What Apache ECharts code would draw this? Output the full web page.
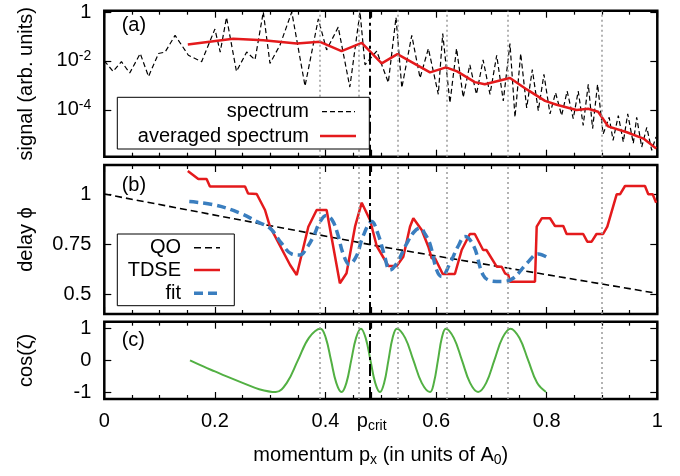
<!DOCTYPE html>
<html>
<head>
<meta charset="utf-8">
<title>spectrum, delay and cos(zeta)</title>
<script src="https://cdn.jsdelivr.net/npm/echarts@6/dist/echarts.min.js"></script>
<style>
  html, body { margin: 0; padding: 0; background: #fff; }
  #chart { width: 680px; height: 476px; }
</style>
</head>
<body>
<div id="chart"></div>
<script>
// ---- values ----
const pCrit = 0.4835
const markerX = [0.391, 0.464, 0.529, 0.6175, 0.7345, 0.895]
const xTickValues = [0, 0.2, 0.4, pCrit, 0.6, 0.8, 1]
const signalTicks = [1e-4, 1e-2, 1]
const delayTicks = [0.5, 0.75, 1]
const cosTicks = [-1, 0, 1]

// (a) spectrum
const spectrumX = [0.000, 0.016, 0.031, 0.046, 0.065, 0.080, 0.098, 0.110, 0.128, 0.152, 0.176, 0.200, 0.2096, 0.221,
  0.239, 0.2575, 0.2725, 0.2875, 0.2996, 0.3177, 0.339, 0.363, 0.387, 0.402, 0.423, 0.444, 0.4624, 0.4714, 0.4926,
  0.5136, 0.5275, 0.538, 0.556, 0.571, 0.586, 0.604, 0.612, 0.625, 0.637, 0.649, 0.661, 0.673, 0.685, 0.6975, 0.7096,
  0.7215, 0.7336, 0.7427, 0.753, 0.7638, 0.774, 0.7848, 0.795, 0.806, 0.816, 0.827, 0.837, 0.848, 0.857, 0.866,
  0.8752, 0.883, 0.892, 0.902, 0.913, 0.920, 0.9295, 0.9385, 0.9465, 0.9566, 0.9627, 0.9718, 0.981, 0.9899, 0.9977]
const spectrumY = [1.0e-2, 3.7e-3, 9.3e-3, 3.2e-3, 2.0e-2, 2.3e-3, 2.0e-2, 2.3e-2, 0.11, 1.7e-2, 9.3e-3, 0.20, 2.3e-2, 0.6,
  3.7e-3, 2.3e-2, 1.1e-2, 1.0, 7.9e-3, 4.4e-2, 1.0, 9.3e-4, 0.52, 2.8e-2, 0.24, 8.5e-4, 1.0, 6.9e-3, 2.5e-2,
  1.3e-3, 0.6, 7.9e-4, 0.11, 2.0e-3, 3.2e-2, 4.3e-4, 0.13, 1.9e-4, 3.2e-2, 3.2e-4, 6.9e-3, 4.3e-4, 1.1e-2, 4.3e-4, 1.7e-2,
  2.3e-4, 5.1e-2, 4.9e-5, 2.0e-2, 1.2e-4, 4.4e-3, 9.1e-5, 2.8e-3, 6.8e-5, 5.0e-4, 5.8e-5, 5.8e-4, 4.3e-5, 5.8e-4, 2.3e-5,
  1.1e-3, 1.7e-5, 1.1e-3, 1.0e-5, 4.9e-5, 5.6e-6, 5.8e-5, 4.8e-6, 6.8e-5, 4.2e-6, 4.9e-5, 3.0e-6, 1.9e-5, 2.2e-6, 7.8e-6]

// (a) averaged spectrum
const averagedX = [0.151, 0.233, 0.2876, 0.348, 0.39, 0.429, 0.4655, 0.5016, 0.530, 0.589, 0.618, 0.638, 0.670, 0.688,
  0.7336, 0.764, 0.797, 0.818, 0.854, 0.875, 0.893, 0.911, 0.945, 0.975, 0.998]
const averagedY = [4.7e-2, 8.1e-2, 7.0e-2, 5.1e-2, 6.0e-2, 2.5e-2, 5.5e-2, 7.9e-3, 1.9e-2, 3.4e-3, 5.4e-3, 3.7e-3, 1.35e-3, 1.1e-3,
  2.0e-3, 6.8e-4, 2.3e-4, 1.6e-4, 9.8e-5, 1.1e-4, 8.3e-5, 2.1e-5, 1.2e-5, 6.6e-6, 2.6e-6]

// (b) QO, TDSE and fit
const qoX = [0, 0.25, 0.5, 0.75, 1]
const qoY = [1.0, 0.868, 0.737, 0.62, 0.503]

const tdseX = [0.151, 0.170, 0.185, 0.191, 0.2545, 0.260, 0.2756, 0.2906, 0.2996, 0.336, 0.348, 0.369, 0.384, 0.402,
  0.426, 0.438, 0.4534, 0.4655, 0.4805, 0.4926, 0.5136, 0.5287, 0.5407, 0.5528, 0.5588, 0.574, 0.586, 0.592, 0.598,
  0.612, 0.634, 0.6463, 0.661, 0.670, 0.685, 0.691, 0.7096, 0.7186, 0.7246, 0.7306, 0.7336, 0.7788, 0.7819, 0.791,
  0.806, 0.815, 0.830, 0.836, 0.866, 0.8734, 0.8813, 0.890, 0.902, 0.9096, 0.9265, 0.9325, 0.9416, 0.9777, 0.9837,
  0.9916, 0.998]
const tdseY = [1.115, 1.075, 1.075, 1.037, 1.037, 1.003, 1.0, 0.92, 0.8365, 0.645, 0.595, 0.8365, 0.92, 0.92,
  0.5535, 0.6035, 0.8365, 0.9565, 0.87, 0.74, 0.64, 0.64, 0.6865, 0.8365, 0.8785, 0.82, 0.7365, 0.6785, 0.6785,
  0.60, 0.60, 0.72, 0.80, 0.80, 0.72, 0.72, 0.6365, 0.6365, 0.6035, 0.595, 0.5615, 0.5615, 0.8365, 0.8785,
  0.8785, 0.84, 0.84, 0.80, 0.80, 0.7615, 0.7615, 0.80, 0.80, 0.8365, 0.9985, 0.9985, 1.04, 1.04, 0.9985,
  0.9985, 0.9565]

const fitX = [0.1537, 0.20, 0.245, 0.276, 0.30, 0.32, 0.339, 0.354, 0.366, 0.378, 0.39, 0.401, 0.412, 0.422, 0.432,
  0.443, 0.456, 0.468, 0.4836, 0.495, 0.506, 0.5166, 0.5287, 0.547, 0.56, 0.571, 0.58, 0.589, 0.601, 0.610, 0.625,
  0.64, 0.652, 0.668, 0.685, 0.70, 0.72, 0.74, 0.764, 0.785, 0.80]
const fitY = [0.962, 0.945, 0.905, 0.862, 0.828, 0.755, 0.70, 0.695, 0.73, 0.787, 0.86, 0.893, 0.87, 0.80, 0.70,
  0.648, 0.69, 0.79, 0.862, 0.80, 0.70, 0.62, 0.653, 0.753, 0.81, 0.83, 0.80, 0.75, 0.62, 0.587, 0.653,
  0.74, 0.787, 0.74, 0.595, 0.565, 0.562, 0.58, 0.653, 0.70, 0.685]

// (c) cos(zeta)
const cosX = [0.155, 0.18, 0.2, 0.22, 0.25, 0.28, 0.31, 0.33, 0.35, 0.37, 0.391, 0.4005, 0.41, 0.4195, 0.429, 0.4378,
  0.4465, 0.4553, 0.464, 0.4726, 0.4813, 0.4899, 0.4985, 0.5061, 0.5138, 0.5214, 0.529, 0.544, 0.559, 0.574, 0.589,
  0.596, 0.6033, 0.6104, 0.6175, 0.632, 0.6468, 0.6614, 0.676, 0.6906, 0.7053, 0.72, 0.7345, 0.7505, 0.7666, 0.7826, 0.7987]
const cosY = [0, -0.2, -0.35, -0.5, -0.71, -0.91, -1, -0.71, 0, 0.71, 1, 0.71, 0, -0.71, -1, -0.71,
  0, 0.71, 1, 0.71, 0, -0.71, -1, -0.71, 0, 0.71, 1, 0.71, 0, -0.71, -1,
  -0.71, 0, 0.71, 1, 0.71, 0, -0.71, -1, -0.71, 0, 0.71, 1, 0.71, 0, -0.71, -1]

// ---- helpers ----
const FONT = '"Liberation Sans", Arial, sans-serif'
const zip = (xs, ys) => xs.map((x, i) => [x, ys[i]])

const gridLeft = 104.3
const gridWidth = 553
const panels = [
  { top: 8.3, height: 148.4 },
  { top: 165, height: 149 },
  { top: 321.7, height: 77.3 }
]

const yDefs = [
  {
    type: 'log', min: 1.2e-6, max: 1.13, ticks: signalTicks, name: 'signal (arb. units)',
    formatter: function (v) {
      const e = Math.round(Math.log10(v))
      return e === 0 ? '1' : '10{sup|' + e + '}'
    }
  },
  { type: 'value', min: 0.4, max: 1.145, ticks: delayTicks, name: 'delay ϕ', formatter: v => String(v) },
  { type: 'value', min: -1.22, max: 1.22, ticks: cosTicks, name: 'cos(ζ)', formatter: v => String(v) }
]

// tick-only x axis (bottom or mirrored top)
function tickXAxis (gridIndex, position) {
  return {
    type: 'value', gridIndex: gridIndex, position: position, min: 0, max: 1, interval: 0.2,
    axisLine: { show: false, onZero: false },
    splitLine: { show: false },
    axisTick: { show: true, inside: true, length: 7, lineStyle: { color: '#000', width: 1.2 }, customValues: xTickValues },
    minorTick: { show: true, splitNumber: 4, length: 4, lineStyle: { color: '#000', width: 1.2 } },
    axisLabel: { show: false }
  }
}

// tick-only y axis (left or mirrored right)
function tickYAxis (gridIndex, position, def) {
  return {
    type: def.type, gridIndex: gridIndex, position: position, min: def.min, max: def.max,
    axisLine: { show: false, onZero: false },
    splitLine: { show: false },
    axisTick: { show: true, inside: true, length: 7, lineStyle: { color: '#000', width: 1.2 }, customValues: def.ticks },
    axisLabel: { show: false }
  }
}

// label-only y axis on the left
function labelYAxis (gridIndex, def) {
  return {
    type: def.type, gridIndex: gridIndex, position: 'left', min: def.min, max: def.max,
    axisLine: { show: false, onZero: false },
    splitLine: { show: false },
    axisTick: { show: false },
    axisLabel: {
      customValues: def.ticks, margin: 13, color: '#000', fontSize: 20, fontFamily: FONT, lineHeight: 24,
      formatter: def.formatter,
      rich: { sup: { fontSize: 14, fontFamily: FONT, color: '#000', verticalAlign: 'top', lineHeight: 14 } }
    },
    name: def.name,
    nameLocation: 'middle',
    nameGap: 68,
    nameTextStyle: { color: '#000', fontSize: 20, fontFamily: FONT }
  }
}

// label-only x axis under panel (c)
const subStyle = { fontSize: 14, fontFamily: FONT, color: '#000', verticalAlign: 'bottom', lineHeight: 14 }
const xLabelAxis = {
  type: 'value', gridIndex: 2, position: 'bottom', min: 0, max: 1, interval: 0.2,
  axisLine: { show: false, onZero: false },
  splitLine: { show: false },
  axisTick: { show: false },
  axisLabel: {
    customValues: xTickValues, margin: 10, color: '#000', fontSize: 20, fontFamily: FONT, lineHeight: 24,
    formatter: function (v) {
      if (Math.abs(v - pCrit) < 1e-9) return 'p{sub|crit}'
      if (v === 0 || v === 1) return String(v)
      return v.toFixed(1)
    },
    rich: { sub: subStyle }
  },
  name: 'momentum p{sub|x} (in units of A{sub|0})',
  nameLocation: 'middle',
  nameGap: 44,
  nameTextStyle: { color: '#000', fontSize: 20, fontFamily: FONT, lineHeight: 24, rich: { sub: subStyle } }
}

// vertical guide lines (dotted) plus p_crit (dash-dot)
const guideLines = {
  silent: true,
  symbol: ['none', 'none'],
  label: { show: false },
  lineStyle: { type: [2, 3], color: '#9a9a9a', width: 1.5 },
  emphasis: { disabled: true },
  data: markerX.map(x => ({ xAxis: x })).concat([
    { xAxis: pCrit, lineStyle: { type: [12, 4, 3, 4], color: '#000', width: 2 } }
  ])
}

const RED = '#e41a1c'
const BLUE = '#3a7ebf'
const GREEN = '#52b043'

const option = {
  animation: false,
  grid: panels.map(p => ({
    left: gridLeft, width: gridWidth, top: p.top, height: p.height,
    show: true, borderColor: '#000', borderWidth: 2.5
  })),
  xAxis: [
    tickXAxis(0, 'bottom'), tickXAxis(1, 'bottom'), tickXAxis(2, 'bottom'),
    tickXAxis(0, 'top'), tickXAxis(1, 'top'), tickXAxis(2, 'top'),
    xLabelAxis
  ],
  yAxis: [
    tickYAxis(0, 'left', yDefs[0]), tickYAxis(1, 'left', yDefs[1]), tickYAxis(2, 'left', yDefs[2]),
    tickYAxis(0, 'right', yDefs[0]), tickYAxis(1, 'right', yDefs[1]), tickYAxis(2, 'right', yDefs[2]),
    labelYAxis(0, yDefs[0]), labelYAxis(1, yDefs[1]), labelYAxis(2, yDefs[2])
  ],
  series: [
    {
      name: 'spectrum', type: 'line', xAxisIndex: 0, yAxisIndex: 0,
      data: zip(spectrumX, spectrumY), showSymbol: false,
      lineStyle: { color: '#000', width: 1.2, type: [5, 3] },
      markLine: guideLines
    },
    {
      name: 'averaged spectrum', type: 'line', xAxisIndex: 0, yAxisIndex: 0,
      data: zip(averagedX, averagedY), showSymbol: false,
      lineStyle: { color: RED, width: 2.5 }
    },
    {
      name: 'QO', type: 'line', xAxisIndex: 1, yAxisIndex: 1,
      data: zip(qoX, qoY), showSymbol: false,
      lineStyle: { color: '#000', width: 1.6, type: [7, 4] },
      markLine: guideLines
    },
    {
      name: 'TDSE', type: 'line', xAxisIndex: 1, yAxisIndex: 1,
      data: zip(tdseX, tdseY), showSymbol: false,
      lineStyle: { color: RED, width: 2.5 }
    },
    {
      name: 'fit', type: 'line', xAxisIndex: 1, yAxisIndex: 1,
      data: zip(fitX, fitY), showSymbol: false, smooth: 0.4,
      lineStyle: { color: BLUE, width: 3.5, type: [9, 5] }
    },
    {
      name: 'cos', type: 'line', xAxisIndex: 2, yAxisIndex: 2,
      data: zip(cosX, cosY), showSymbol: false, smooth: 0.4,
      lineStyle: { color: GREEN, width: 2 },
      markLine: guideLines
    }
  ],
  graphic: [
    // panel tags
    { type: 'text', x: 121.7, y: 25, z: 100, style: { text: '(a)', font: '20px ' + FONT, fill: '#000', verticalAlign: 'middle' } },
    { type: 'text', x: 121.7, y: 185.5, z: 100, style: { text: '(b)', font: '20px ' + FONT, fill: '#000', verticalAlign: 'middle' } },
    { type: 'text', x: 121.7, y: 340, z: 100, style: { text: '(c)', font: '20px ' + FONT, fill: '#000', verticalAlign: 'middle' } },

    // legend of (a)
    { type: 'rect', z: 99, shape: { x: 117.3, y: 97.3, width: 252, height: 51.7 }, style: { fill: '#fff', stroke: '#000', lineWidth: 1 } },
    { type: 'text', x: 309, y: 111.7, z: 100, style: { text: 'spectrum', font: '20px ' + FONT, fill: '#000', align: 'right', verticalAlign: 'middle' } },
    { type: 'text', x: 309, y: 136, z: 100, style: { text: 'averaged spectrum', font: '20px ' + FONT, fill: '#000', align: 'right', verticalAlign: 'middle' } },
    { type: 'line', z: 100, shape: { x1: 322, y1: 111.7, x2: 355, y2: 111.7 }, style: { stroke: '#000', lineWidth: 1.2, lineDash: [5, 3] } },
    { type: 'line', z: 100, shape: { x1: 320, y1: 136, x2: 356, y2: 136 }, style: { stroke: RED, lineWidth: 2.5 } },

    // legend of (b)
    { type: 'rect', z: 99, shape: { x: 117.3, y: 234, width: 117, height: 71.7 }, style: { fill: '#fff', stroke: '#000', lineWidth: 1 } },
    { type: 'text', x: 181, y: 247.7, z: 100, style: { text: 'QO', font: '20px ' + FONT, fill: '#000', align: 'right', verticalAlign: 'middle' } },
    { type: 'text', x: 181, y: 270, z: 100, style: { text: 'TDSE', font: '20px ' + FONT, fill: '#000', align: 'right', verticalAlign: 'middle' } },
    { type: 'text', x: 181, y: 293.3, z: 100, style: { text: 'fit', font: '20px ' + FONT, fill: '#000', align: 'right', verticalAlign: 'middle' } },
    { type: 'line', z: 100, shape: { x1: 194, y1: 247.7, x2: 220, y2: 247.7 }, style: { stroke: '#000', lineWidth: 1.6, lineDash: [7, 4] } },
    { type: 'line', z: 100, shape: { x1: 194, y1: 270, x2: 220, y2: 270 }, style: { stroke: RED, lineWidth: 2.5 } },
    { type: 'line', z: 100, shape: { x1: 194, y1: 293.3, x2: 220, y2: 293.3 }, style: { stroke: BLUE, lineWidth: 3.5, lineDash: [9, 5] } }
  ]
}

const chart = echarts.init(document.getElementById('chart'))
chart.setOption(option)
window.addEventListener('resize', () => chart.resize())
</script>
</body>
</html>
